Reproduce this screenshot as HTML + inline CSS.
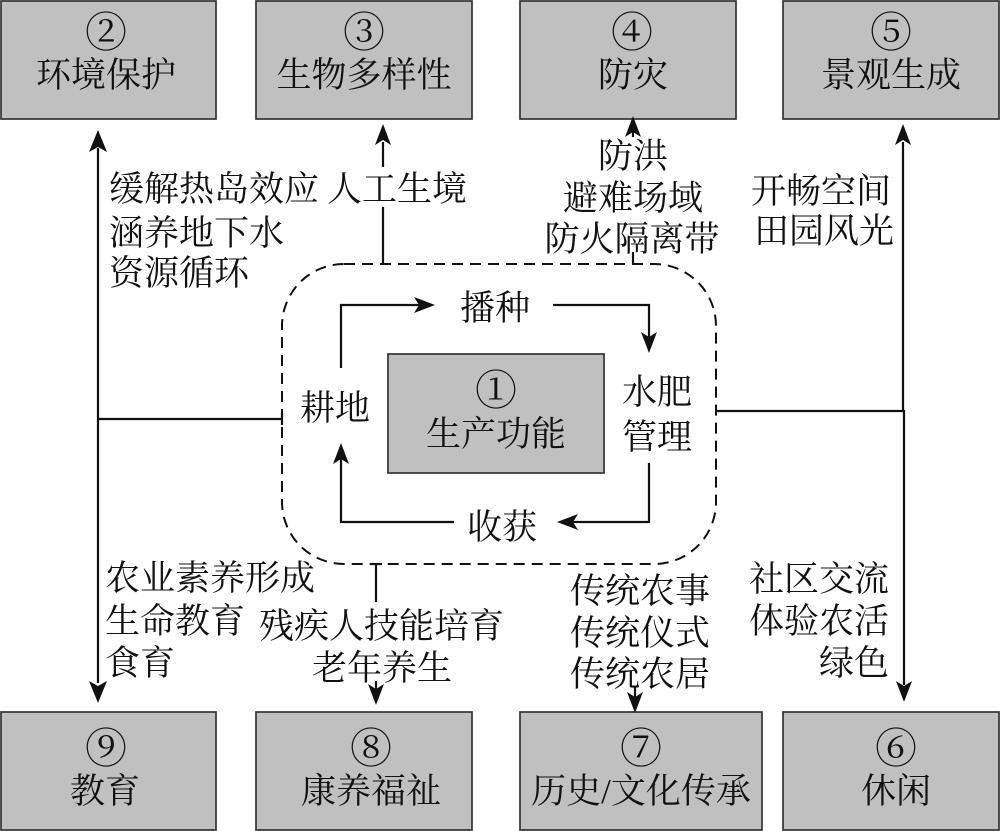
<!DOCTYPE html>
<html>
<head>
<meta charset="utf-8">
<style>
  html,body{margin:0;padding:0;background:#fff;}
  svg{display:block;}
  text{font-family:"Liberation Serif","Noto Serif CJK SC",serif;font-size:35px;fill:#111;}
  text.num{font-size:42px;}
</style>
</head>
<body>
<svg width="1000" height="831" viewBox="0 0 1000 831" xmlns="http://www.w3.org/2000/svg">
  <!-- boxes -->
  <g fill="#c0c0c0" stroke="#333" stroke-width="1.7">
    <rect x="1" y="1" width="215" height="118"/>
    <rect x="256" y="1" width="216" height="118"/>
    <rect x="520" y="1" width="216" height="118"/>
    <rect x="783" y="1" width="216" height="118"/>
    <rect x="1" y="712" width="215" height="118"/>
    <rect x="256" y="712" width="216" height="118"/>
    <rect x="520" y="712" width="242" height="118"/>
    <rect x="783" y="712" width="216" height="118"/>
    <rect x="388" y="354" width="216" height="119"/>
  </g>

  <!-- box texts -->
  <g text-anchor="middle">
    <text class="num" x="106" y="47">②</text>
    <text x="106" y="87">环境保护</text>
    <text class="num" x="364" y="47">③</text>
    <text x="364" y="87">生物多样性</text>
    <text class="num" x="632" y="47">④</text>
    <text x="633" y="87">防灾</text>
    <text class="num" x="891" y="47">⑤</text>
    <text x="891" y="87">景观生成</text>

    <text class="num" x="106" y="763">⑨</text>
    <text x="105" y="803">教育</text>
    <text class="num" x="371" y="763">⑧</text>
    <text x="371" y="803">康养福祉</text>
    <text class="num" x="641" y="763">⑦</text>
    <text x="641" y="803">历史/文化传承</text>
    <text class="num" x="896" y="763">⑥</text>
    <text x="896" y="803">休闲</text>

    <text class="num" x="496" y="405">①</text>
    <text x="496" y="446">生产功能</text>

    <text x="495" y="320">播种</text>
    <text x="657" y="404">水肥</text>
    <text x="657" y="449">管理</text>
    <text x="502" y="539">收获</text>
    <text x="335" y="420">耕地</text>

    <text x="633" y="168">防洪</text>
    <text x="633" y="210">避难场域</text>
    <text x="632" y="251">防火隔离带</text>

    <text x="382" y="680">老年养生</text>

    <text x="640" y="603">传统农事</text>
    <text x="640" y="645">传统仪式</text>
    <text x="640" y="686">传统农居</text>
  </g>

  <g text-anchor="start">
    <text x="109" y="201">缓解热岛效应</text>
    <text x="327" y="201">人工生境</text>
    <text x="109" y="245">涵养地下水</text>
    <text x="109" y="285">资源循环</text>

    <text x="751" y="203">开畅空间</text>
    <text x="754" y="243">田园风光</text>

    <text x="105" y="590">农业素养形成</text>
    <text x="105" y="633">生命教育</text>
    <text x="105" y="675">食育</text>
    <text x="259" y="638">残疾人技能培育</text>
  </g>

  <g text-anchor="end">
    <text x="889" y="591">社区交流</text>
    <text x="889" y="633">体验农活</text>
    <text x="889" y="675">绿色</text>
  </g>

  <!-- dashed boundary -->
  <rect x="282" y="264" width="434" height="300" rx="62" ry="62" fill="none" stroke="#111" stroke-width="2" stroke-dasharray="11 7"/>

  <!-- solid connector lines -->
  <g fill="none" stroke="#111" stroke-width="2.2">
    <path d="M98,148 V683"/>
    <path d="M97,419 H282"/>
    <path d="M282,413 V425"/>
    <path d="M383,142 V167"/>
    <path d="M383,207 V264"/>
    <path d="M633,130 V137"/>
    <path d="M633,252 V264"/>
    <path d="M903,142 V411"/>
    <path d="M717,411 H904 V685"/>
    <path d="M635,686 V697"/>
    <path d="M370,564 H382"/>
    <path d="M376,564 V602"/>
    <path d="M376,681 V690"/>
    <path d="M341,368 V305 H420"/>
    <path d="M553,305 H649 V338"/>
    <path d="M649,463 V522 H572"/>
    <path d="M454,522 H341 V458"/>
  </g>

  <!-- arrowheads -->
  <g fill="#111" stroke="none">
    <path d="M98,130 L89,152 L98,147 L107,152 Z"/>
    <path d="M383,124 L375,145 L383,140 L391,145 Z"/>
    <path d="M633,116 L625,137 L633,132 L641,137 Z"/>
    <path d="M903,124 L895,145 L903,140 L911,145 Z"/>
    <path d="M341,443 L333,464 L341,459 L349,464 Z"/>
    <path d="M98,703 L89,681 L98,686 L107,681 Z"/>
    <path d="M376,705 L368,684 L376,689 L384,684 Z"/>
    <path d="M635,713 L627,692 L635,697 L643,692 Z"/>
    <path d="M904,702 L896,681 L904,686 L912,681 Z"/>
    <path d="M649,353 L641,332 L649,337 L657,332 Z"/>
    <path d="M435,305 L414,297 L419,305 L414,313 Z"/>
    <path d="M557,522 L578,514 L573,522 L578,530 Z"/>
  </g>
</svg>
</body>
</html>
